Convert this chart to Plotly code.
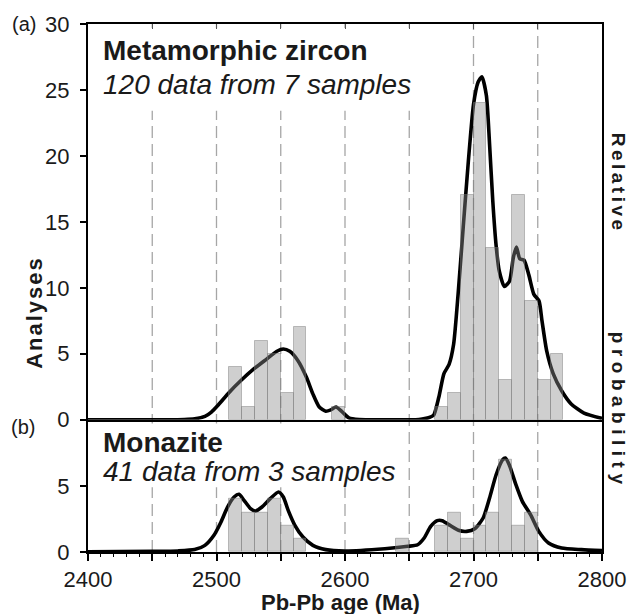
import plotly.graph_objects as go

# ---------------- data ----------------
# histogram bins (left edge, Ma) and counts, 10 Ma bins
top_bin_start = [2510, 2520, 2530, 2540, 2550, 2560, 2590, 2670, 2680, 2690,
                 2700, 2710, 2720, 2730, 2740, 2750, 2760]
top_counts = [4, 1, 6, 5, 2, 7, 1, 1, 2, 17, 24, 13, 3, 17, 9, 3, 5]

bot_bin_start = [2510, 2520, 2530, 2540, 2550, 2560, 2640, 2670, 2680, 2690,
                 2700, 2710, 2720, 2730, 2740]
bot_counts = [4, 3, 3, 4, 2, 1, 1, 2, 3, 1, 2, 3, 7, 2, 3]
bin_width = 10

# relative probability curves (in "Analyses" units)
top_curve_age = [2400, 2460, 2475, 2483, 2491, 2496, 2501, 2510, 2519, 2529,
                 2539, 2547, 2552, 2557, 2563.4, 2570, 2575, 2580, 2585, 2589,
                 2593, 2598, 2603, 2611, 2630, 2655, 2660, 2665, 2669, 2673,
                 2677, 2681, 2684.5, 2688, 2692, 2696, 2700, 2703.6, 2706.5, 2710,
                 2712.5, 2715, 2717.6, 2720, 2724, 2728, 2731, 2733.4, 2736, 2739.3,
                 2743, 2747, 2751, 2753.3, 2757, 2762, 2768.6, 2776, 2786, 2800]
top_curve_val = [0, 0, 0.02, 0.07, 0.25, 0.58, 1.08, 2.09, 2.97, 3.85,
                 4.6, 5.19, 5.36, 5.19, 4.48, 3.22, 1.96, 0.96, 0.65, 0.75,
                 0.96, 0.58, 0.15, 0.02, 0, 0, 0.05, 0.15, 0.35, 1.7,
                 3.5, 4.2, 5.7, 9.5, 14.6, 19.6, 23.9, 25.6, 26.0, 24.6,
                 20.9, 16.6, 13.2, 11.3, 10.1, 10.5, 12.3, 13.1, 12.2, 12.1,
                 11.0, 9.5, 9.0, 7.5, 5.2, 3.5, 2.2, 1.2, 0.5, 0.1]

bot_curve_age = [2400, 2450, 2470, 2483, 2491, 2498, 2503.5, 2508.6, 2513.7, 2517.6,
                 2521.4, 2526.5, 2530.3, 2535.4, 2541.8, 2548.2, 2552, 2555.8, 2561, 2567.3,
                 2575, 2585, 2600, 2631, 2649, 2656.5, 2661.6, 2666.7, 2671.8, 2675.6,
                 2682, 2688.3, 2694.7, 2701, 2707.5, 2712.5, 2717.6, 2722.7, 2724.8, 2727.8,
                 2733, 2738, 2744.4, 2750.8, 2758.4, 2768.6, 2784, 2800]
bot_curve_val = [0.02, 0.05, 0.08, 0.18, 0.5, 1.26, 2.27, 3.4, 4.16, 4.36,
                 3.91, 3.28, 3.1, 3.4, 4.03, 4.54, 4.16, 3.15, 2.02, 1.13,
                 0.5, 0.18, 0.08, 0.25, 0.43, 0.55, 1.06, 1.94, 2.37, 2.37,
                 2.0, 1.64, 1.56, 1.76, 2.57, 4.08, 5.84, 6.98, 7.1, 6.6,
                 5.09, 3.83, 2.82, 1.56, 0.68, 0.3, 0.18, 0.1]

ref_ages = [2450, 2500, 2550, 2600, 2650, 2700, 2750]
x_tickvals = [2400, 2450, 2500, 2550, 2600, 2650, 2700, 2750, 2800]
x_ticktext = ["2400", "", "2500", "", "2600", "", "2700", "", "2800"]
top_y_ticks = [0, 5, 10, 15, 20, 25, 30]
bot_y_ticks = [0, 5]

FONT = "Arial, 'Liberation Sans', sans-serif"
TXT = "#1a1a1a"
BAR_FILL = "rgba(140,140,140,0.42)"
BAR_EDGE = "rgba(120,120,120,0.45)"

fig = go.Figure()

# curves (main subplots)
fig.add_trace(go.Scatter(x=top_curve_age, y=top_curve_val, xaxis="x2", yaxis="y2",
                         mode="lines", line=dict(color="black", width=3.6, shape="spline", smoothing=0.6),
                         hoverinfo="skip", showlegend=False))
fig.add_trace(go.Scatter(x=bot_curve_age, y=bot_curve_val, xaxis="x", yaxis="y",
                         mode="lines", line=dict(color="black", width=3.6, shape="spline", smoothing=0.6),
                         hoverinfo="skip", showlegend=False))

# histogram bars on overlay axes so they are drawn above the curves
fig.add_trace(go.Bar(x=[b + bin_width / 2 for b in top_bin_start], y=top_counts, width=bin_width,
                     xaxis="x2", yaxis="y3",
                     marker=dict(color=BAR_FILL, line=dict(color=BAR_EDGE, width=1)),
                     hoverinfo="skip", showlegend=False))
fig.add_trace(go.Bar(x=[b + bin_width / 2 for b in bot_bin_start], y=bot_counts, width=bin_width,
                     xaxis="x", yaxis="y4",
                     marker=dict(color=BAR_FILL, line=dict(color=BAR_EDGE, width=1)),
                     hoverinfo="skip", showlegend=False))

split = 0.2505
tickfont = dict(family=FONT, size=22, color=TXT)

fig.update_layout(
    width=638, height=614,
    margin=dict(l=88, r=27, t=22, b=62),
    paper_bgcolor="white", plot_bgcolor="white",
    bargap=0,
    xaxis=dict(domain=[0, 1], anchor="y", range=[2400, 2800],
               showline=True, linewidth=2, linecolor="black",
               tickmode="array", tickvals=x_tickvals, ticktext=x_ticktext,
               ticks="outside", ticklen=7, tickwidth=1.5, tickcolor="black",
               minor=dict(tickmode="linear", tick0=2400, dtick=10, ticks="outside",
                          ticklen=3, tickwidth=1, tickcolor="black"),
               tickfont=tickfont, ticklabelstandoff=0,
               showgrid=False, zeroline=False),
    xaxis2=dict(domain=[0, 1], anchor="y2", matches="x", range=[2400, 2800], side="top",
                showline=True, linewidth=2, linecolor="black", mirror=True,
                tickmode="array", tickvals=x_tickvals,
                ticks="inside", ticklen=5, tickwidth=1, tickcolor="#555",
                showticklabels=False, showgrid=False, zeroline=False),
    yaxis=dict(domain=[0, split], anchor="x", range=[0, 10],
               showline=True, linewidth=2, linecolor="black", mirror=True,
               tickmode="array", tickvals=bot_y_ticks,
               ticks="outside", ticklen=6, tickwidth=1.5, tickcolor="black",
               tickfont=tickfont, ticklabelstandoff=6,
               showgrid=False, zeroline=False),
    yaxis2=dict(domain=[split, 1], anchor="x2", range=[0, 30],
                showline=True, linewidth=2, linecolor="black", mirror=True,
                tickmode="array", tickvals=top_y_ticks,
                ticks="outside", ticklen=6, tickwidth=1.5, tickcolor="black",
                tickfont=tickfont, ticklabelstandoff=6,
                showgrid=False, zeroline=False),
    yaxis3=dict(overlaying="y2", anchor="x2", range=[0, 30], visible=False),
    yaxis4=dict(overlaying="y", anchor="x", range=[0, 10], visible=False),
)

# dashed reference lines
for a in ref_ages:
    fig.add_shape(type="line", xref="x", yref="paper", x0=a, x1=a, y0=0, y1=1,
                  layer="below", line=dict(color="#a6a6a6", width=1.3, dash="12px,6px"))

# white boxes behind the panel labels (hide dashes)
fig.add_shape(type="rect", xref="paper", yref="paper", x0=0.0134, x1=0.635, y0=0.8358, y1=0.9925,
              layer="below", fillcolor="white", line=dict(width=0))
fig.add_shape(type="rect", xref="paper", yref="paper", x0=0.0134, x1=0.6004, y0=0.1226, y1=0.2434,
              layer="below", fillcolor="white", line=dict(width=0))

def ann(text, x, y, size, xanchor="center", yanchor="middle", angle=0):
    fig.add_annotation(text=text, xref="paper", yref="paper", x=x, y=y,
                       xanchor=xanchor, yanchor=yanchor, textangle=angle, showarrow=False,
                       font=dict(family=FONT, size=size, color=TXT))

ann("<b>Metamorphic zircon</b>", 0.0249, 0.9504, 28, xanchor="left")
ann("<i>120 data from 7 samples</i>", 0.0249, 0.8862, 28, xanchor="left")
ann("<b>Monazite</b>", 0.0249, 0.2070, 28, xanchor="left")
ann("<i>41 data from 3 samples</i>", 0.0249, 0.1523, 28, xanchor="left")

ann('<b><span style="letter-spacing:2px">Analyses</span></b>', -0.1033, 0.4547, 22, angle=-90)
ann("<b>Pb-Pb age (Ma)</b>", 0.4914, -0.0960, 22)
ann('<b><span style="letter-spacing:3.5px">Relative</span></b>', 1.0325, 0.6981, 19, angle=90)
ann('<b><span style="letter-spacing:5.5px">probability</span></b>', 1.0325, 0.2679, 19, angle=90)
ann("(a)", -0.1243, 1.0, 20)
ann("(b)", -0.1262, 0.2358, 20)

fig.write_html("out.html", config={"displayModeBar": False},
               post_script="document.body.style.margin='0';document.body.style.padding='0';")
